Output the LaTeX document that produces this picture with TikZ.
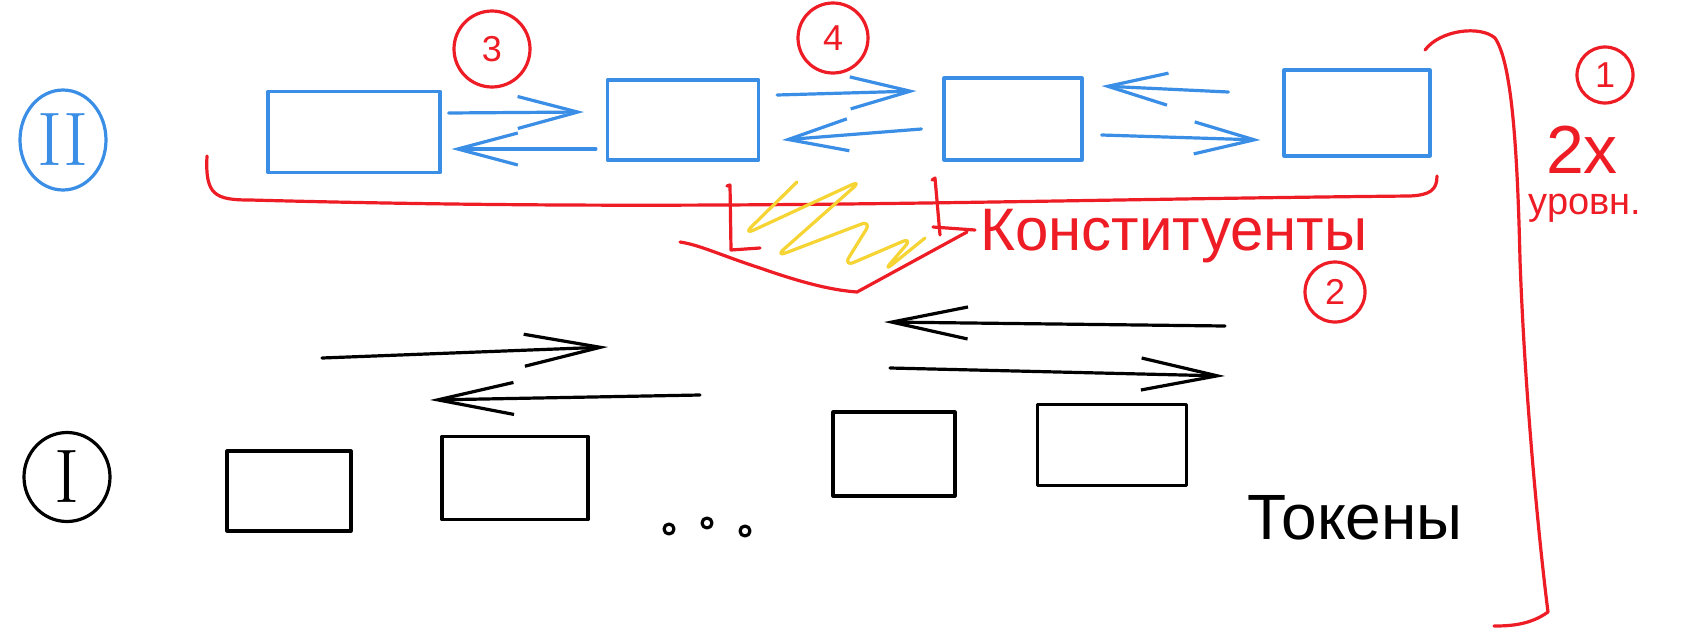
\documentclass[tikz,border=0pt]{standalone}
\usepackage{fontspec}
\setsansfont{Liberation Sans}
\usetikzlibrary{arrows.meta,shapes.geometric,calc}
\definecolor{sblue}{HTML}{3A8EE6}
\definecolor{sred}{HTML}{EE1C25}
\definecolor{syellow}{HTML}{F5D433}
\begin{document}
\begin{tikzpicture}[x=0.5pt,y=-0.5pt, line cap=round, line join=round,
  pen/.style={line width=1.6pt},
  bbox/.style={draw=sblue, pen, inner sep=0pt},
  kbox/.style={draw=black, pen, inner sep=0pt},
  barrow/.style={pen, draw=sblue, -{Straight Barb[length=30pt,width=16pt]}},
  karrow/.style={pen, draw=black, -{Straight Barb[length=38pt,width=16pt]}},
  rnum/.style={draw=sred, pen, circle, inner sep=0pt, text=sred, font=\sffamily\fontsize{18}{18}\selectfont},
  roman/.style={pen, ellipse, inner sep=0pt, font=\fontsize{38}{38}\selectfont},
  rtext/.style={text=sred, font=\sffamily\fontsize{30}{30}\selectfont, inner sep=0pt},
  dot/.style={draw=black, pen, circle, inner sep=0pt, minimum size=5pt}]
\useasboundingbox (0,0) rectangle (1692,632);
\fill[white] (0,0) rectangle (1692,632);

% level II (blue)
\node[roman, draw=sblue, text=sblue, minimum width=43pt, minimum height=50pt] (lvII) at (63,140) {II};
\node[bbox, minimum width=86pt, minimum height=40.5pt] (b1) at (354,132) {};
\node[bbox, minimum width=75.5pt, minimum height=40pt] (b2) at (683,120) {};
\node[bbox, minimum width=69pt, minimum height=41pt] (b3) at (1013,119) {};
\node[bbox, minimum width=73pt, minimum height=43pt] (b4) at (1357,113) {};

\draw[barrow] ($(b1.east)+(7,-19)$) -- ($(b2.west)+(-22,-8)$);
\draw[barrow] ($(b2.west)+(-10,29)$) -- ($(b1.east)+(10,17)$);
\draw[barrow] ($(b2.east)+(17,-25)$) -- ($(b3.west)+(-26,-28)$);
\draw[barrow] ($(b3.west)+(-21,10)$) -- ($(b2.east)+(22,20)$);
\draw[barrow] ($(b4.west)+(-54,-21)$) -- ($(b3.east)+(18,-33)$);
\draw[barrow] ($(b3.east)+(18,16)$) -- ($(b4.west)+(-22,27)$);

% red annotations
\node[rnum, minimum size=38pt] (c3) at (492,49) {3};
\node[rnum, minimum size=35pt] (c4) at (833,38) {4};
\node[rnum, minimum size=28pt] (c1) at (1605,75) {1};
\node[rnum, minimum size=30pt] (c2) at (1335,292) {2};

\draw[sred, pen] (207,156) .. controls (205,195) and (215,200) .. (250,200)
  .. controls (700,212) and (1000,200) .. (1410,196)
  .. controls (1430,195) and (1437,190) .. (1437,176);
\draw[sred, pen] (680,242) .. controls (700,245) and (720,255) .. (760,268)
  .. controls (800,282) and (830,290) .. (857,292) -- (967,232);
\draw[sred, pen] (933,227) -- (975,230);
\draw[sred, pen] (727,186) -- (730,185) -- (731,250) -- (760,248);
\draw[sred, pen] (932,180) -- (935,178) -- (940,235);
\draw[syellow, pen, rounded corners=6pt] (797,182) -- (743,235) -- (862,180) -- (775,257)
  -- (872,220) -- (843,267) -- (913,237) -- (883,272) -- (925,238);
\node[rtext, anchor=west] (kt) at (980,236) {Конституенты};

\draw[sred, pen] (1425,50) .. controls (1440,30) and (1480,25) .. (1495,38)
  .. controls (1510,60) and (1517,130) .. (1520,260)
  .. controls (1525,400) and (1540,550) .. (1548,612)
  .. controls (1530,625) and (1510,626) .. (1494,626);
\node[rtext, font=\sffamily\fontsize{34}{34}\selectfont] (t2x) at (1582,150) {2х};
\node[rtext, font=\sffamily\fontsize{19}{19}\selectfont] (tur) at (1585,208) {уровн.};

% level I (black)
\node[roman, draw=black, minimum width=43pt, minimum height=44.5pt] (lvI) at (67,477) {I};
\node[kbox, minimum width=62pt, minimum height=40pt] (k1) at (289,491) {};
\node[kbox, minimum width=73pt, minimum height=41.5pt] (k2) at (515,478) {};
\node[kbox, minimum width=61pt, minimum height=42pt] (k3) at (894,454) {};
\node[kbox, minimum width=74.5pt, minimum height=40.5pt] (k4) at (1112,445) {};
\node[dot] (d1) at (669,529) {};
\node[dot] (d2) at (707,523) {};
\node[dot] (d3) at (745,531) {};

\coordinate (p1) at (322,358);
\coordinate (p2) at (608,347);
\coordinate (p3) at (700,395);
\coordinate (p4) at (430,400);
\coordinate (q1) at (1225,326);
\coordinate (q2) at (884,322);
\coordinate (q3) at (890,368);
\coordinate (q4) at (1225,376);
\draw[karrow] (p1) -- (p2);
\draw[karrow] (p3) -- (p4);
\draw[karrow] (q1) -- (q2);
\draw[karrow] (q3) -- (q4);

\node[font=\sffamily\fontsize{32}{32}\selectfont, inner sep=0pt] (tok) at (1355,518) {Токены};
\end{tikzpicture}
\end{document}
